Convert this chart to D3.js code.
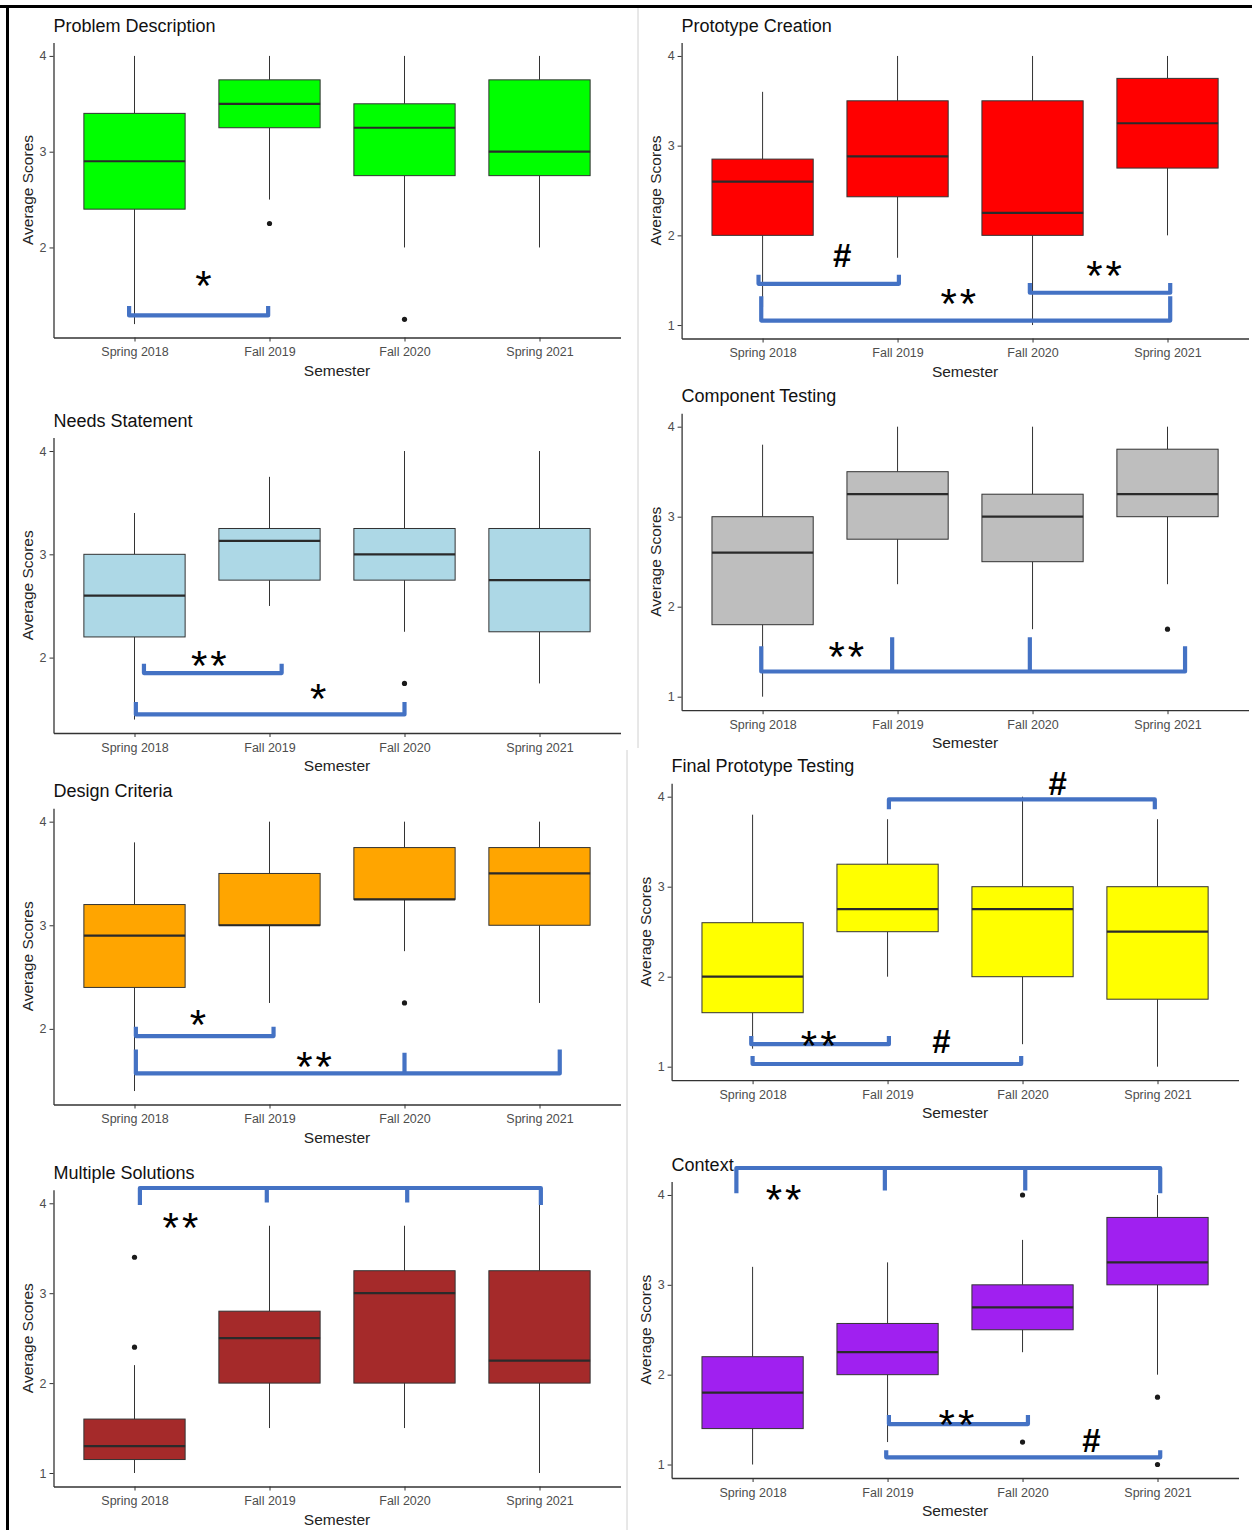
<!DOCTYPE html>
<html>
<head>
<meta charset="utf-8">
<script src="https://cdn.jsdelivr.net/npm/d3@7"></script>
<style>
  body { margin: 0; background: #fff; }
  svg { display: block; font-family: "Liberation Sans", Arial, sans-serif; }
  .axis path, .axis line { stroke: #333; }
  .axis text { fill: #4d4d4d; font-size: 12.5px; font-family: "Liberation Sans", Arial, sans-serif; }
</style>
</head>
<body>
<div id="chart"></div>
<script>
const semesters = ["Spring 2018", "Fall 2019", "Fall 2020", "Spring 2021"];

const titles = [
  "Problem Description", "Prototype Creation", "Needs Statement", "Component Testing",
  "Design Criteria", "Final Prototype Testing", "Multiple Solutions", "Context"
];

const fills = ["#00ff00", "#ff0000", "#add8e6", "#bebebe", "#ffa500", "#ffff00", "#a52a2a", "#a020f0"];

// box stats per semester: [lower whisker, Q1, median, Q3, upper whisker]
const problemDescription = [[1.2, 2.4, 2.9, 3.4, 4], [2.5, 3.25, 3.5, 3.75, 4], [2, 2.75, 3.25, 3.5, 4], [2, 2.75, 3, 3.75, 4]];
const prototypeCreation = [[1.2, 2, 2.6, 2.85, 3.6], [1.75, 2.43, 2.88, 3.5, 4], [1, 2, 2.25, 3.5, 4], [2, 2.75, 3.25, 3.75, 4]];
const needsStatement = [[1.4, 2.2, 2.6, 3, 3.4], [2.5, 2.75, 3.13, 3.25, 3.75], [2.25, 2.75, 3, 3.25, 4], [1.75, 2.25, 2.75, 3.25, 4]];
const componentTesting = [[1, 1.8, 2.6, 3, 3.8], [2.25, 2.75, 3.25, 3.5, 4], [1.75, 2.5, 3, 3.25, 4], [2.25, 3, 3.25, 3.75, 4]];
const designCriteria = [[1.4, 2.4, 2.9, 3.2, 3.8], [2.25, 3, 3, 3.5, 4], [2.75, 3.25, 3.25, 3.75, 4], [2.25, 3, 3.5, 3.75, 4]];
const finalPrototypeTesting = [[1.2, 1.6, 2, 2.6, 3.8], [2, 2.5, 2.75, 3.25, 3.75], [1.25, 2, 2.75, 3, 4], [1, 1.75, 2.5, 3, 3.75]];
const multipleSolutions = [[1, 1.15, 1.3, 1.6, 2.2], [1.5, 2, 2.5, 2.8, 3.75], [1.5, 2, 3, 3.25, 3.75], [1, 2, 2.25, 3.25, 4]];
const context = [[1, 1.4, 1.8, 2.2, 3.2], [1.25, 2, 2.25, 2.57, 3.25], [2.25, 2.5, 2.75, 3, 3.5], [2, 3, 3.25, 3.75, 4]];

// outliers per semester
const problemDescriptionOut = [[], [2.25], [1.25], []];
const prototypeCreationOut = [[], [], [], []];
const needsStatementOut = [[], [], [1.75], []];
const componentTestingOut = [[], [], [], [1.75]];
const designCriteriaOut = [[], [], [2.25], []];
const finalPrototypeTestingOut = [[], [], [], []];
const multipleSolutionsOut = [[3.4, 2.4], [], [], []];
const contextOut = [[], [], [4, 1.25], [1.75, 1]];

// significance brackets: ends/ticks on the semester axis, bar and tip on the score axis
const problemDescriptionSig = [
  { xs: [0.96, 1.99], bar: 1.29, tip: 1.39, label: "*", lx: 1.51, ly: 1.71 }
];
const prototypeCreationSig = [
  { xs: [0.97, 2.01], bar: 1.46, tip: 1.56, label: "#", lx: 1.59, ly: 1.78 },
  { xs: [0.99, 4.02], bar: 1.05, tip: 1.32, label: "**", lx: 2.45, ly: 1.36 },
  { xs: [2.98, 4.02], bar: 1.36, tip: 1.47, label: "**", lx: 3.53, ly: 1.67 }
];
const needsStatementSig = [
  { xs: [1.07, 2.09], bar: 1.85, tip: 1.94, label: "**", lx: 1.55, ly: 2.03 },
  { xs: [1.01, 3.0], bar: 1.45, tip: 1.57, label: "*", lx: 2.36, ly: 1.71 }
];
const componentTestingSig = [
  { xs: [0.99, 1.96, 2.98, 4.13], bar: 1.28, tip: 1.56, midTip: 1.66, label: "**", lx: 1.62, ly: 1.57 }
];
const designCriteriaSig = [
  { xs: [1.01, 2.03], bar: 1.93, tip: 2.02, label: "*", lx: 1.47, ly: 2.15 },
  { xs: [1.01, 3.0, 4.15], bar: 1.57, tip: 1.8, midTip: 1.77, label: "**", lx: 2.33, ly: 1.74 }
];
const finalPrototypeTestingSig = [
  { xs: [2.01, 3.98], bar: 3.97, tip: 3.86, label: "#", lx: 3.26, ly: 4.15 },
  { xs: [0.99, 2.01], bar: 1.25, tip: 1.34, label: "**", lx: 1.49, ly: 1.35 },
  { xs: [1.0, 2.99], bar: 1.03, tip: 1.12, label: "#", lx: 2.4, ly: 1.28 }
];
const multipleSolutionsSig = [
  { xs: [1.04, 1.98, 3.02, 4.01], bar: 4.17, tip: 3.98, midTip: 4.01, label: "**", lx: 1.34, ly: 3.85 }
];
const contextSig = [
  { xs: [0.88, 1.98, 3.02, 4.02], bar: 4.3, tip: 4.02, midTip: 4.05, label: "**", lx: 1.23, ly: 4.07 },
  { xs: [2.01, 3.04], bar: 1.45, tip: 1.55, label: "**", lx: 2.51, ly: 1.57 },
  { xs: [1.99, 4.02], bar: 1.08, tip: 1.16, label: "#", lx: 3.51, ly: 1.27 }
];

// where each panel's plotting area sits on the page
const frames = [
  { left: 53.5, right: 620.5, top: 42.5, bottom: 337.5 },
  { left: 681.6, right: 1248.5, top: 42.5, bottom: 338.5 },
  { left: 53.5, right: 620.5, top: 437.6, bottom: 733 },
  { left: 681.6, right: 1248.5, top: 413.2, bottom: 710.2 },
  { left: 53.5, right: 620.5, top: 808.2, bottom: 1104.5 },
  { left: 671.6, right: 1238.5, top: 783.2, bottom: 1080.2 },
  { left: 53.5, right: 620.5, top: 1189.8, bottom: 1486.5 },
  { left: 671.6, right: 1238.5, top: 1181.5, bottom: 1478 }
];

const stats = [problemDescription, prototypeCreation, needsStatement, componentTesting,
  designCriteria, finalPrototypeTesting, multipleSolutions, context];
const outliers = [problemDescriptionOut, prototypeCreationOut, needsStatementOut, componentTestingOut,
  designCriteriaOut, finalPrototypeTestingOut, multipleSolutionsOut, contextOut];
const sigs = [problemDescriptionSig, prototypeCreationSig, needsStatementSig, componentTestingSig,
  designCriteriaSig, finalPrototypeTestingSig, multipleSolutionsSig, contextSig];

const width = 1252, height = 1530;

const svg = d3.select("#chart").append("svg")
  .attr("width", width)
  .attr("height", height)
  .attr("viewBox", [0, 0, width, height]);

// page frame and column separators
svg.append("line").attr("x1", 0).attr("x2", width).attr("y1", 6.5).attr("y2", 6.5)
  .attr("stroke", "#000").attr("stroke-width", 3);
svg.append("line").attr("x1", 7.5).attr("x2", 7.5).attr("y1", 5).attr("y2", height)
  .attr("stroke", "#000").attr("stroke-width", 3);
svg.append("line").attr("x1", 638).attr("x2", 638).attr("y1", 8).attr("y2", 748)
  .attr("stroke", "#d0d0d0").attr("stroke-width", 1);
svg.append("line").attr("x1", 627).attr("x2", 627).attr("y1", 750).attr("y2", height)
  .attr("stroke", "#d0d0d0").attr("stroke-width", 1);

stats.forEach((boxes, i) => {
  const f = frames[i];
  const g = svg.append("g").attr("class", "panel");

  // ggplot-style 5% expansion around the data range
  const vals = boxes.flatMap((b) => [b[0], b[4]]).concat(outliers[i].flat());
  const lo = d3.min(vals), hi = d3.max(vals), pad = (hi - lo) * 0.05;

  const x = d3.scaleLinear().domain([0.4, 4.6]).range([f.left, f.right]);
  const y = d3.scaleLinear().domain([lo - pad, hi + pad]).range([f.bottom, f.top]);

  // axes
  g.append("g")
    .attr("class", "axis")
    .attr("transform", `translate(${f.left},0)`)
    .call(d3.axisLeft(y).tickValues(d3.range(Math.ceil(lo - pad), Math.floor(hi + pad) + 1))
      .tickFormat(d3.format("d")).tickSize(4).tickSizeOuter(0).tickPadding(3))
    .call((a) => a.select(".domain").attr("stroke-width", 1.3));

  g.append("g")
    .attr("class", "axis")
    .attr("transform", `translate(0,${f.bottom})`)
    .call(d3.axisBottom(x).tickValues([1, 2, 3, 4]).tickFormat((d) => semesters[d - 1])
      .tickSize(4).tickSizeOuter(0).tickPadding(6))
    .call((a) => a.select(".domain").attr("stroke-width", 1.3));

  // titles
  g.append("text")
    .attr("x", f.left)
    .attr("y", f.top - 11)
    .attr("font-size", 18)
    .attr("fill", "#111")
    .text(titles[i]);

  g.append("text")
    .attr("x", (f.left + f.right) / 2)
    .attr("y", f.bottom + 38)
    .attr("text-anchor", "middle")
    .attr("font-size", 15.5)
    .attr("fill", "#222")
    .text("Semester");

  g.append("text")
    .attr("transform", `translate(${f.left - 21},${(f.top + f.bottom) / 2}) rotate(-90)`)
    .attr("text-anchor", "middle")
    .attr("font-size", 15.5)
    .attr("fill", "#222")
    .text("Average Scores");

  // boxes
  const box = g.selectAll("g.box")
    .data(boxes)
    .join("g")
    .attr("class", "box");

  box.append("line")
    .attr("x1", (d, k) => x(k + 1)).attr("x2", (d, k) => x(k + 1))
    .attr("y1", (d) => y(d[4])).attr("y2", (d) => y(d[3]))
    .attr("stroke", "#333").attr("stroke-width", 1);
  box.append("line")
    .attr("x1", (d, k) => x(k + 1)).attr("x2", (d, k) => x(k + 1))
    .attr("y1", (d) => y(d[1])).attr("y2", (d) => y(d[0]))
    .attr("stroke", "#333").attr("stroke-width", 1);

  box.append("rect")
    .attr("x", (d, k) => x(k + 0.625))
    .attr("width", (d, k) => x(k + 1.375) - x(k + 0.625))
    .attr("y", (d) => y(d[3]))
    .attr("height", (d) => y(d[1]) - y(d[3]))
    .attr("fill", fills[i])
    .attr("stroke", "#333")
    .attr("stroke-width", 1);

  box.append("line")
    .attr("x1", (d, k) => x(k + 0.625)).attr("x2", (d, k) => x(k + 1.375))
    .attr("y1", (d) => y(d[2])).attr("y2", (d) => y(d[2]))
    .attr("stroke", "#2a2a2a").attr("stroke-width", 2.2);

  // outlier points
  const pts = outliers[i].flatMap((arr, k) => arr.map((v) => ({ k, v })));
  g.selectAll("circle.out")
    .data(pts)
    .join("circle")
    .attr("class", "out")
    .attr("cx", (d) => x(d.k + 1))
    .attr("cy", (d) => y(d.v))
    .attr("r", 2.6)
    .attr("fill", "#1a1a1a");

  // significance brackets
  for (const s of sigs[i]) {
    const first = s.xs[0], last = s.xs[s.xs.length - 1];
    let p = `M${x(first)},${y(s.tip)}V${y(s.bar)}H${x(last)}V${y(s.tip)}`;
    for (const m of s.xs.slice(1, -1)) p += `M${x(m)},${y(s.midTip)}V${y(s.bar)}`;
    g.append("path")
      .attr("d", p)
      .attr("fill", "none")
      .attr("stroke", "#4472c4")
      .attr("stroke-width", 4.2)
      .attr("stroke-linejoin", "round");

    const isHash = s.label === "#";
    g.append("text")
      .attr("x", x(s.lx))
      .attr("y", y(s.ly))
      .attr("dy", isHash ? "0.35em" : "0.6em")
      .attr("text-anchor", "middle")
      .attr("font-size", isHash ? 33 : 42)
      .attr("font-weight", isHash ? "bold" : "normal")
      .attr("letter-spacing", isHash ? 0 : 3)
      .attr("dx", isHash ? 0 : 1.5)
      .attr("fill", "#000")
      .text(s.label);
  }
});
</script>
</body>
</html>
